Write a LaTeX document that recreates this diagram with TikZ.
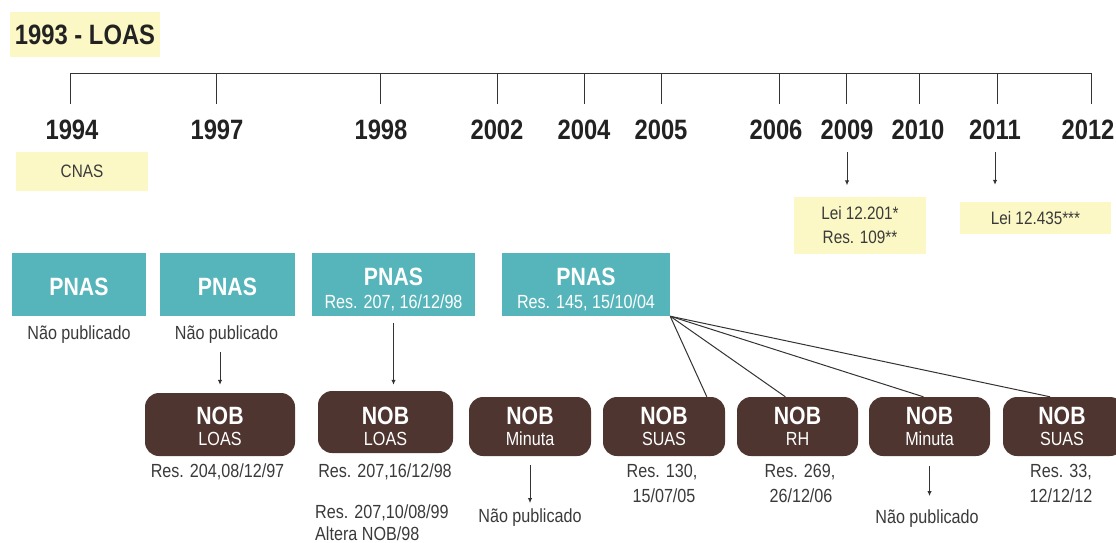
\documentclass[tikz,border=0pt]{standalone}
\usepackage{fontspec}
\setmainfont{Liberation Sans}[FakeStretch=0.85]
\usetikzlibrary{arrows.meta,calc}
\definecolor{pnasc}{HTML}{56B5BA}
\definecolor{nobc}{HTML}{4E3530}
\definecolor{yelc}{HTML}{FBF8C6}
\definecolor{txtc}{HTML}{3A3A3A}
\definecolor{yrc}{HTML}{222222}
\definecolor{linec}{HTML}{333333}
\begin{document}
\begin{tikzpicture}[x=1pt,y=-1pt,
  ybox/.style={fill=yelc, draw=none, inner sep=0},
  pbox/.style={fill=pnasc, draw=none, minimum height=63, inner sep=0},
  nbox/.style={fill=nobc, draw=none, rounded corners=14, inner sep=0},
  yr/.style={font=\fontsize{28}{30}\selectfont\bfseries, text=yrc, anchor=base, inner sep=0},
  lbl/.style={font=\fontsize{19}{24}\selectfont, text=txtc, anchor=base, inner sep=0},
  ptit/.style={font=\fontsize{25}{28}\selectfont\bfseries, text=white, anchor=base, inner sep=0},
  psub/.style={font=\fontsize{19}{24}\selectfont, text=white, anchor=base, inner sep=0},
  ln/.style={draw=linec, line width=1pt},
  arr/.style={ln, -{Latex[length=5pt,width=4.5pt]}}
]
\useasboundingbox (0,0) rectangle (1116,542);

% title
\node[ybox, minimum width=150, minimum height=45, font=\fontsize{28}{30}\selectfont\bfseries, text=yrc] (title) at (85,34.5) {1993 - LOAS};

% timeline
\coordinate (t1994) at (70,73);
\coordinate (t1997) at (216,73);
\coordinate (t1998) at (380,73);
\coordinate (t2002) at (497,73);
\coordinate (t2004) at (584,73);
\coordinate (t2005) at (661,73);
\coordinate (t2006) at (779,73);
\coordinate (t2009) at (846,73);
\coordinate (t2010) at (919,73);
\coordinate (t2011) at (997,73);
\coordinate (t2012) at (1091,73);
\draw[ln] (t1994) -- (t2012);
\foreach \t in {1994,1997,1998,2002,2004,2005,2006,2009,2010,2011,2012}{
  \draw[ln] (t\t) -- ++(0,31);
}
\node[yr] (y1994) at (72,139) {1994};
\node[yr] (y1997) at (217,139) {1997};
\node[yr] (y1998) at (381,139) {1998};
\node[yr] (y2002) at (497,139) {2002};
\node[yr] (y2004) at (584,139) {2004};
\node[yr] (y2005) at (661,139) {2005};
\node[yr] (y2006) at (776,139) {2006};
\node[yr] (y2009) at (847,139) {2009};
\node[yr] (y2010) at (918,139) {2010};
\node[yr] (y2011) at (995,139) {2011};
\node[yr] (y2012) at (1088,139) {2012};

% yellow boxes
\node[ybox, minimum width=132, minimum height=39, font=\fontsize{18}{24}\selectfont, text=txtc] (cnas) at (82,171.5) {CNAS};
\node[ybox, minimum width=132, minimum height=57, font=\fontsize{18}{24}\selectfont, text=txtc, align=center] (lei1) at (860,225) {Lei 12.201*\\Res. 109**};
\node[ybox, minimum width=151, minimum height=32, font=\fontsize{18}{24}\selectfont, text=txtc] (lei2) at (1035.5,218) {Lei 12.435***};
\draw[arr, shorten <=13pt, shorten >=11pt] (y2009.south |- 0,139) -- (y2009.south |- lei1.north);
\draw[arr, shorten <=13pt, shorten >=17pt] (y2011.south |- 0,139) -- (y2011.south |- lei2.north);

% PNAS boxes
\node[pbox, minimum width=134] (p1) at (79,284.5) {};
\node[pbox, minimum width=135] (p2) at (227.5,284.5) {};
\node[pbox, minimum width=163] (p3) at (393.5,284.5) {};
\node[pbox, minimum width=168] (p4) at (586,284.5) {};
\node[ptit] (p1t) at (79,295) {PNAS};
\node[ptit] (p2t) at (227.5,295) {PNAS};
\node[ptit] (p3t) at (393.5,285) {PNAS};
\node[psub] (p3s) at (393.5,308) {Res. 207, 16/12/98};
\node[ptit] (p4t) at (586,285) {PNAS};
\node[psub] (p4s) at (586,308) {Res. 145, 15/10/04};

\node[lbl] (np1) at (79,339) {Não publicado};
\node[lbl] (np2) at (226.5,339) {Não publicado};

% NOB boxes
\node[nbox, minimum width=150, minimum height=63] (n1) at (220,424.5) {};
\node[nbox, minimum width=135, minimum height=62] (n2) at (385.5,422) {};
\node[nbox, minimum width=122, minimum height=59] (n3) at (530,426.5) {};
\node[nbox, minimum width=122, minimum height=59] (n4) at (664,426.5) {};
\node[nbox, minimum width=121, minimum height=59] (n5) at (797.5,426.5) {};
\node[nbox, minimum width=121, minimum height=59] (n6) at (929.5,426.5) {};
\node[nbox, minimum width=121, minimum height=59] (n7) at (1063.5,426.5) {};
\node[ptit] (n1t) at (220,424) {NOB};
\node[psub] (n1s) at (220,445) {LOAS};
\node[ptit] (n2t) at (385.5,424) {NOB};
\node[psub] (n2s) at (385.5,445) {LOAS};
\node[ptit] (n3t) at (530,424) {NOB};
\node[psub] (n3s) at (530,445) {Minuta};
\node[ptit] (n4t) at (664,424) {NOB};
\node[psub] (n4s) at (664,445) {SUAS};
\node[ptit] (n5t) at (797.5,424) {NOB};
\node[psub] (n5s) at (797.5,445) {RH};
\node[ptit] (n6t) at (929.5,424) {NOB};
\node[psub] (n6s) at (929.5,445) {Minuta};
\node[ptit] (n7t) at (1062,424) {NOB};
\node[psub] (n7s) at (1062,445) {SUAS};

% labels under NOB
\node[lbl] (r1) at (217.5,477) {Res. 204,08/12/97};
\node[lbl] (r2a) at (385,477) {Res. 207,16/12/98};
\node[lbl, anchor=base west] (r2b) at (315,518) {Res. 207,10/08/99};
\node[lbl, anchor=base west] (r2c) at (315,540) {Altera NOB/98};
\node[lbl] (np3) at (530,522) {Não publicado};
\node[lbl] (r4a) at (662,477) {Res. 130,};
\node[lbl] (r4b) at (664,502) {15/07/05};
\node[lbl] (r5a) at (800,477) {Res. 269,};
\node[lbl] (r5b) at (801,502) {26/12/06};
\node[lbl] (np6) at (927,523) {Não publicado};
\node[lbl] (r7a) at (1061,477) {Res. 33,};
\node[lbl] (r7b) at (1061,502) {12/12/12};

% arrows
\draw[arr, shorten <=9pt, shorten >=8pt] (n1.north |- np2.south) -- (n1.north);
\draw[arr, shorten <=7pt, shorten >=6pt] (p3.south) -- (p3.south |- n2.north);
\draw[arr, shorten <=9pt, shorten >=5pt] (n3.south) -- (np3.north);
\draw[arr, shorten <=10pt, shorten >=13pt] (n6.south) -- (n6.south |- np6.north);

% fan lines from PNAS 2004
\draw[ln] (p4.south east) -- ($(n4.north)!0.7!(n4.north east)$);
\draw[ln] (p4.south east) -- ($(n5.north)!0.2!(n5.north west)$);
\draw[ln] (p4.south east) -- ($(n6.north)!0.1!(n6.north west)$);
\draw[ln] (p4.south east) -- ($(n7.north)!0.22!(n7.north west)$);
\end{tikzpicture}
\end{document}
